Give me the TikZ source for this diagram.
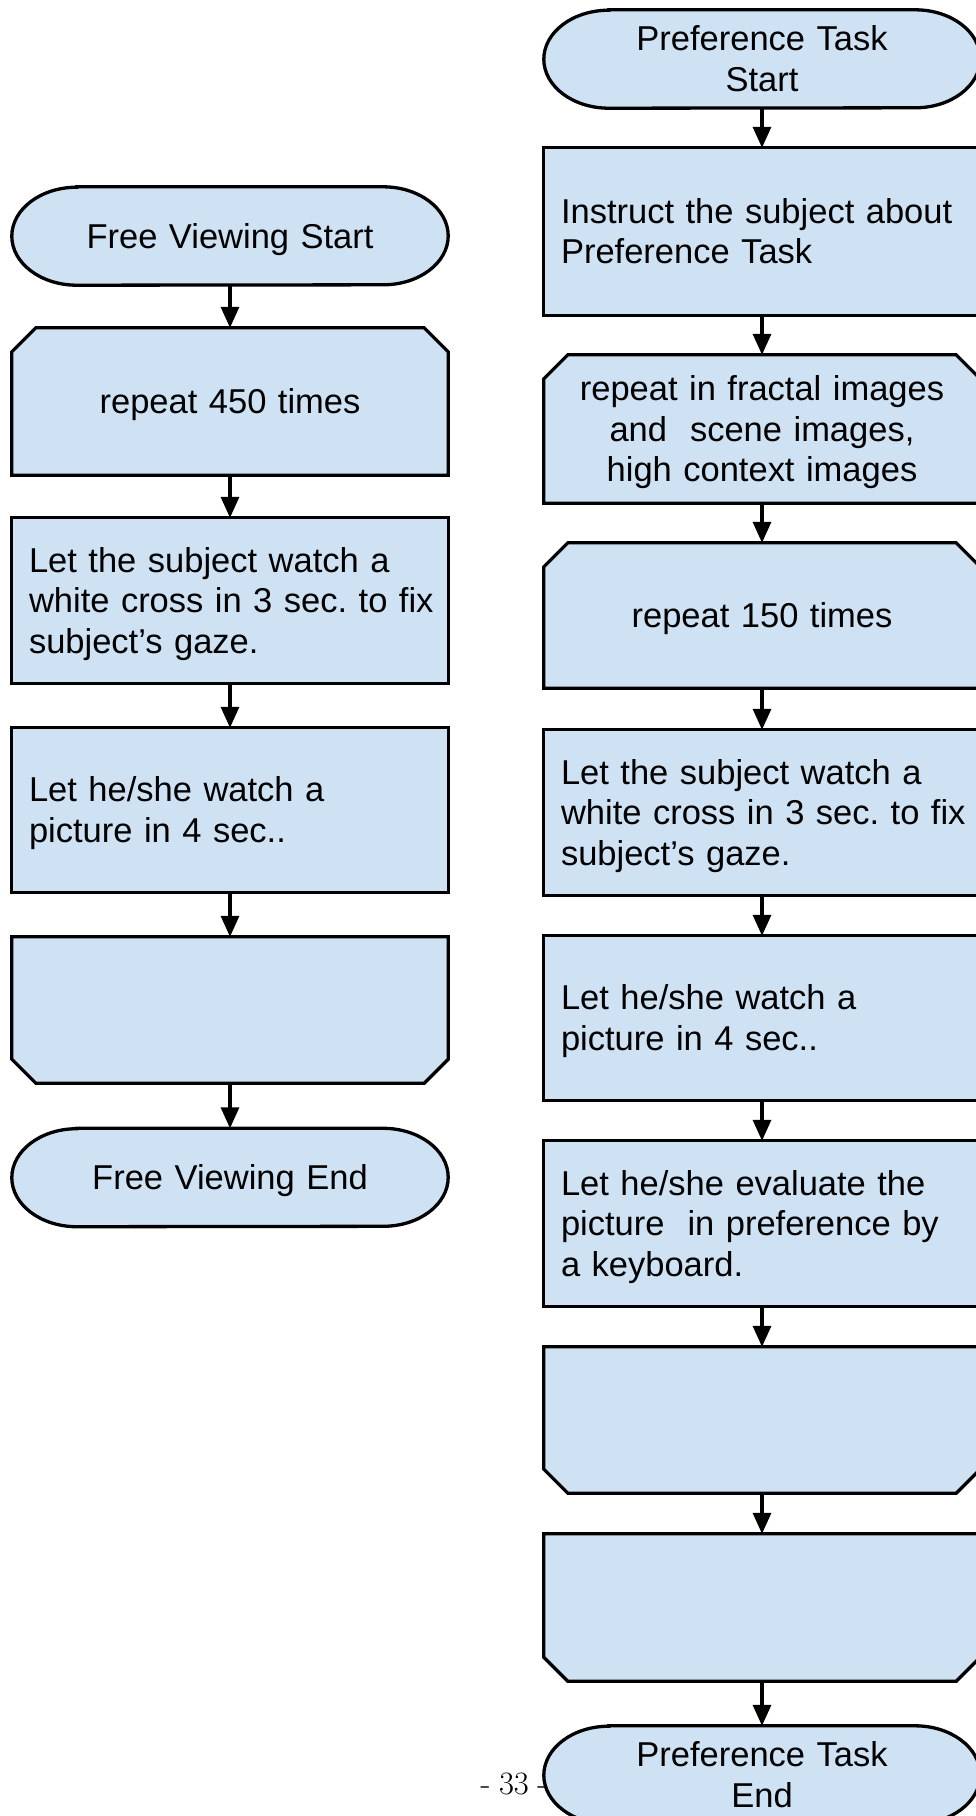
\documentclass[tikz,border=0pt]{standalone}
\usepackage{fontspec}
\newfontfamily\arialfont{Liberation Sans}
\usetikzlibrary{arrows.meta,backgrounds}
\definecolor{boxfill}{HTML}{CFE2F3}

% fixed line box: 32.4pt above the baseline, 8.1pt below
\newcommand\ls{\rule[-8.1pt]{0pt}{40.5pt}}
% Arial-metric body text with a plain 0.278em interword space
\newcommand\boxfont{\arialfont\fontsize{34.5pt}{40.5pt}\selectfont
  \fontdimen2\font=0.278em \fontdimen3\font=0pt \fontdimen4\font=0pt \frenchspacing}

\tikzset{
  outline/.style={draw=black, line width=3.3pt, fill=boxfill, line join=miter},
  flow/.style={line width=3.3pt, -{Triangle[length=21pt,width=18pt]}},
  base/.style={rectangle, inner ysep=0pt, inner xsep=17pt, minimum width=436pt,
    text width=402pt, font=\boxfont},
  lefttext/.style={base, align=left},
  midtext/.style={base, align=center},
}

% terminator: straight top and bottom with half-ellipse ends
\newcommand\termshape[1]{%
  \draw[outline] ([xshift=65pt]#1.north west) -- ([xshift=-65pt]#1.north east)
    arc[start angle=90, end angle=-90, x radius=65pt, y radius=49pt]
    -- ([xshift=65pt]#1.south west)
    arc[start angle=270, end angle=90, x radius=65pt, y radius=49pt] -- cycle;}
% process box
\newcommand\procshape[1]{%
  \draw[outline] (#1.north west) rectangle (#1.south east);}
% loop start: top corners cut
\newcommand\loopopenshape[1]{%
  \draw[outline] ([xshift=24pt]#1.north west) -- ([xshift=-24pt]#1.north east)
    -- ([yshift=-24pt]#1.north east) -- (#1.south east) -- (#1.south west)
    -- ([yshift=-24pt]#1.north west) -- cycle;}
% loop end: bottom corners cut
\newcommand\loopcloseshape[1]{%
  \draw[outline] (#1.north west) -- (#1.north east)
    -- ([yshift=24pt]#1.south east) -- ([xshift=-24pt]#1.south east)
    -- ([xshift=24pt]#1.south west) -- ([yshift=24pt]#1.south west) -- cycle;}

\begin{document}
\begin{tikzpicture}[x=1pt, y=1pt]
\useasboundingbox (0,0) rectangle (976,-1816);

% ---- free viewing ----
\node[midtext, minimum height=98pt]  (fvs)    at (230,-236)    {\ls Free Viewing Start};
\node[midtext, minimum height=147pt] (rep450) at (230,-401.5)  {\ls repeat 450 times};
\node[lefttext, minimum height=165pt] (cross1) at (230,-600.5) {\ls\mbox{Let the subject watch a}\\\mbox{white cross in 3 sec. to fix}\\\mbox{subject’s gaze.}\ls};
\node[lefttext, minimum height=164pt] (pic1)  at (230,-810)    {\ls\mbox{Let he/she watch a}\\\mbox{picture in 4 sec..}\ls};
\node[midtext, minimum height=146pt] (end450) at (230,-1010)   {};
\node[midtext, minimum height=98pt]  (fve)    at (230,-1177.5) {\ls Free Viewing End};

% ---- preference task ----
\node[midtext, minimum height=98pt]  (pts)    at (762,-59)     {\ls Preference Task\\Start\ls};
\node[lefttext, minimum height=167pt] (instr) at (762,-231.5)  {\ls\mbox{Instruct the subject about}\\\mbox{Preference Task}\ls};
\node[midtext, minimum height=148pt] (repimg) at (762,-429)    {\ls\mbox{repeat in fractal images}\\\mbox{and\ \ scene images,}\\\mbox{high context images}\ls};
\node[midtext, minimum height=145pt] (rep150) at (762,-615.5)  {\ls repeat 150 times};
\node[lefttext, minimum height=165pt] (cross2) at (762,-812.5) {\ls\mbox{Let the subject watch a}\\\mbox{white cross in 3 sec. to fix}\\\mbox{subject’s gaze.}\ls};
\node[lefttext, minimum height=164pt] (pic2)  at (762,-1018)   {\ls\mbox{Let he/she watch a}\\\mbox{picture in 4 sec..}\ls};
\node[lefttext, minimum height=165pt] (eval)  at (762,-1223.5) {\ls\mbox{Let he/she evaluate the}\\\mbox{picture\ \ in preference by}\\\mbox{a keyboard.}\ls};
\node[midtext, minimum height=146pt] (end150) at (762,-1420)   {};
\node[midtext, minimum height=147pt] (endimg) at (762,-1607.5) {};
\node[midtext, minimum height=98pt]  (pte)    at (762,-1775)   {\ls Preference Task\\End\ls};

\begin{scope}[on background layer]
  % page number, partly covered by the last terminator
  \node[anchor=base, inner sep=0pt, font=\fontsize{32.6pt}{33pt}\selectfont] (pageno)
    at (514,-1794) {-\hspace{8.5pt}33\hspace{8.5pt}-};
  \termshape{fvs}
  \loopopenshape{rep450}
  \procshape{cross1}
  \procshape{pic1}
  \loopcloseshape{end450}
  \termshape{fve}
  \termshape{pts}
  \procshape{instr}
  \loopopenshape{repimg}
  \loopopenshape{rep150}
  \procshape{cross2}
  \procshape{pic2}
  \procshape{eval}
  \loopcloseshape{end150}
  \loopcloseshape{endimg}
  \termshape{pte}
\end{scope}

\foreach \a/\b in {fvs/rep450, rep450/cross1, cross1/pic1, pic1/end450, end450/fve,
                   pts/instr, instr/repimg, repimg/rep150, rep150/cross2, cross2/pic2,
                   pic2/eval, eval/end150, end150/endimg, endimg/pte}
  \draw[flow] (\a.south) -- (\b.north);
\end{tikzpicture}
\end{document}
